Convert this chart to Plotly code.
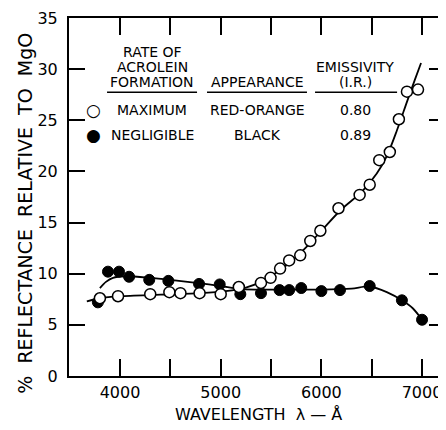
import plotly.graph_objects as go

# ---- data ----
max_wl = [3800, 3980, 4300, 4490, 4600, 4790, 5000, 5180, 5400, 5495, 5590, 5680, 5790, 5890, 5990,
          6170, 6380, 6480, 6575, 6680, 6770, 6850, 6960]
max_val = [7.6, 7.8, 8.0, 8.2, 8.1, 8.1, 8.0, 8.7, 9.1, 9.6, 10.5, 11.3, 11.8, 13.2, 14.2,
           16.4, 17.7, 18.7, 21.1, 21.9, 25.1, 27.8, 28.0]

neg_wl = [3780, 3880, 3990, 4090, 4290, 4480, 4785, 4990, 5195, 5400, 5585, 5680, 5800, 6000,
          6185, 6480, 6800, 7000]
neg_val = [7.2, 10.2, 10.2, 9.7, 9.4, 9.3, 9.0, 8.95, 8.0, 8.1, 8.4, 8.4, 8.6, 8.3,
           8.4, 8.8, 7.4, 5.5]

max_curve_wl = [3670, 3800, 4000, 4400, 4800, 5050, 5250, 5400, 5550, 5700, 5850, 6000,
                6200, 6400, 6550, 6650, 6750, 6850, 6930, 6990]
max_curve_val = [7.3, 7.6, 7.8, 7.95, 8.1, 8.3, 8.65, 9.2, 10.1, 11.2, 12.6, 14.2,
                 16.3, 18.0, 19.8, 21.5, 24.0, 26.8, 29.0, 30.6]

neg_curve_wl = [3800, 3860, 3930, 4050, 4300, 4500, 4800, 5000, 5200, 5500, 6000, 6300,
                6480, 6650, 6800, 6910, 7000]
neg_curve_val = [8.6, 9.2, 9.6, 9.75, 9.6, 9.4, 9.05, 8.8, 8.5, 8.45, 8.45, 8.55,
                 8.75, 8.2, 7.4, 6.6, 5.5]

x_tick_vals = [4000, 4500, 5000, 5500, 6000, 6500, 7000]
x_tick_text = ["4000", "", "5000", "", "6000", "", "7000"]
y_tick_vals = [0, 5, 10, 15, 20, 25, 30, 35]

table_rows = [
    ("○", "MAXIMUM", "RED-ORANGE", "0.80"),
    ("●", "NEGLIGIBLE", "BLACK", "0.89"),
]

FONT = "DejaVu Sans"
NB = "\u00a0"

fig = go.Figure()

fig.add_trace(go.Scatter(x=max_curve_wl, y=max_curve_val, mode="lines",
                         line=dict(color="black", width=1.8, shape="spline", smoothing=0.8),
                         hoverinfo="skip", showlegend=False))
fig.add_trace(go.Scatter(x=neg_curve_wl, y=neg_curve_val, mode="lines",
                         line=dict(color="black", width=1.8, shape="spline", smoothing=0.8),
                         hoverinfo="skip", showlegend=False))
fig.add_trace(go.Scatter(x=neg_wl, y=neg_val, mode="markers",
                         marker=dict(symbol="circle", size=11, color="black",
                                     line=dict(color="black", width=1)),
                         showlegend=False))
fig.add_trace(go.Scatter(x=max_wl, y=max_val, mode="markers",
                         marker=dict(symbol="circle", size=11, color="white",
                                     line=dict(color="black", width=1.5)),
                         showlegend=False))

# ---- table-style legend ----
col1, col2, col3 = 4318, 5361, 6334
sym_x = 3732
ann = []
def txt(x, y, s, size=14):
    ann.append(dict(x=x, y=y, xref="x", yref="y", text=s, showarrow=False,
                    font=dict(family=FONT, size=size, color="black"),
                    xanchor="center", yanchor="middle"))

txt(col1, 31.7, "RATE OF")
txt(col1, 30.2, "ACROLEIN")
txt(col1, 28.7, "FORMATION")
txt(col2, 28.7, "APPEARANCE")
txt(col3, 30.2, "EMISSIVITY")
txt(col3, 28.7, "(I.R.)")
row_y = [26.0, 23.6]
for (sym, a, b, c), yy in zip(table_rows, row_y):
    txt(sym_x, yy, sym, size=17)
    txt(col1, yy, a)
    txt(col2, yy, b)
    txt(col3, yy, c)

# axis titles
xtitle = "WAVELENGTH" + NB * 2 + "λ — Å"
ytitle = (NB * 2).join(["%", "REFLECTANCE", "RELATIVE", "TO", "MgO"])
ann.append(dict(x=0.505, y=-0.108, xref="paper", yref="paper", text=xtitle, showarrow=False,
                font=dict(family=FONT, size=16, color="black"),
                xanchor="center", yanchor="middle"))
ann.append(dict(x=-0.118, y=0.455, xref="paper", yref="paper", text=ytitle, showarrow=False,
                textangle=-90, font=dict(family=FONT, size=19, color="black"),
                xanchor="center", yanchor="middle"))

shapes = []
for x0, x1 in [(3871, 4765), (4864, 5857), (5937, 6752)]:
    shapes.append(dict(type="line", xref="x", yref="y", x0=x0, x1=x1, y0=27.75, y1=27.75,
                       line=dict(color="black", width=1.5)))

# page body has an 8px margin, so the figure is sized/offset to compensate
fig.update_layout(
    width=438, height=422,
    margin=dict(l=61, r=1, t=10, b=54),
    paper_bgcolor="white", plot_bgcolor="white",
    font=dict(family=FONT, color="black"),
    annotations=ann, shapes=shapes,
)
fig.update_xaxes(range=[3493, 7228], tickvals=x_tick_vals, ticktext=x_tick_text,
                 ticks="inside", ticklen=17, tickwidth=1.5, tickcolor="black",
                 showline=True, linecolor="black", linewidth=2, mirror="ticks",
                 showgrid=False, zeroline=False, automargin=False,
                 ticklabeloverflow="allow", ticklabelstandoff=1,
                 tickfont=dict(family=FONT, size=16))
fig.update_yaxes(range=[0, 35], tickvals=y_tick_vals,
                 ticks="inside", ticklen=16, tickwidth=1.5, tickcolor="black",
                 showline=True, linecolor="black", linewidth=2, mirror="ticks",
                 showgrid=False, zeroline=False, automargin=False,
                 ticklabelstandoff=6,
                 tickfont=dict(family=FONT, size=16))

fig.write_html("out.html")
